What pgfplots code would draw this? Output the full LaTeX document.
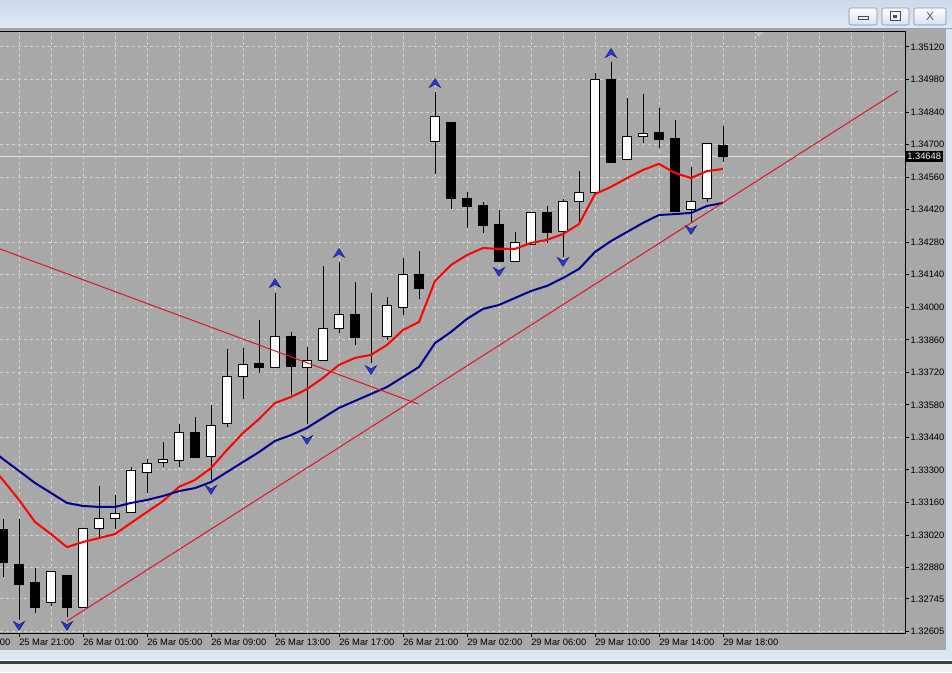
\documentclass[border=0pt]{standalone}
\usepackage{fontspec}
\setmainfont{Liberation Sans}
\usepackage{pgfplots}
\usepackage{pgfplotstable}
\pgfplotsset{compat=1.18}

\definecolor{bggray}{RGB}{168,168,168}
\definecolor{gridc}{RGB}{212,212,212}
\definecolor{tbtop}{RGB}{205,218,236}
\definecolor{tbbot}{RGB}{224,233,245}
\definecolor{tbline}{RGB}{150,160,175}
\definecolor{frameblue}{RGB}{220,230,243}
\definecolor{btnedge}{RGB}{120,140,170}
\definecolor{btnbot}{RGB}{214,225,240}
\definecolor{maNavy}{RGB}{0,0,140}
\definecolor{trendred}{RGB}{220,20,40}
\definecolor{arrowblue}{RGB}{45,55,200}
\definecolor{arrowdark}{RGB}{20,20,120}
\definecolor{pricegray}{RGB}{222,222,222}

% fractal arrows
\pgfdeclareplotmark{fup}{%
  \pgfpathmoveto{\pgfpoint{0pt}{3.4pt}}%
  \pgfpathlineto{\pgfpoint{4.3pt}{-3.4pt}}%
  \pgfpathlineto{\pgfpoint{0pt}{-1pt}}%
  \pgfpathlineto{\pgfpoint{-4.3pt}{-3.4pt}}%
  \pgfpathclose\pgfusepathqfillstroke}
\pgfdeclareplotmark{fdn}{%
  \pgfpathmoveto{\pgfpoint{0pt}{-3.4pt}}%
  \pgfpathlineto{\pgfpoint{4.3pt}{3.4pt}}%
  \pgfpathlineto{\pgfpoint{0pt}{1pt}}%
  \pgfpathlineto{\pgfpoint{-4.3pt}{3.4pt}}%
  \pgfpathclose\pgfusepathqfillstroke}

% hourly candles, index 0 = 25 Mar 20:00
\pgfplotstableread{
i o h l c
0 1.33042 1.33089 1.32839 1.32900
1 1.32895 1.33089 1.32654 1.32805
2 1.32814 1.32878 1.32684 1.32710
3 1.32728 1.32865 1.32715 1.32865
4 1.32844 1.32848 1.32667 1.32710
5 1.32710 1.33050 1.32710 1.33050
6 1.33046 1.33231 1.33012 1.33089
7 1.33089 1.33192 1.33046 1.33111
8 1.33115 1.33313 1.33115 1.33296
9 1.33291 1.33347 1.33201 1.33326
10 1.33334 1.33420 1.33313 1.33343
11 1.33339 1.33498 1.33313 1.33463
12 1.33463 1.33528 1.33352 1.33352
13 1.33356 1.33580 1.33257 1.33493
14 1.33498 1.33820 1.33485 1.33704
15 1.33700 1.33825 1.33605 1.33752
16 1.33756 1.33945 1.33717 1.33743
17 1.33743 1.34062 1.33739 1.33876
18 1.33876 1.33894 1.33623 1.33747
19 1.33743 1.33829 1.33498 1.33769
20 1.33773 1.34178 1.33769 1.33907
21 1.33907 1.34195 1.33889 1.33971
22 1.33971 1.34109 1.33838 1.33872
23 1.33876 1.34062 1.33760 1.33876
24 1.33876 1.34044 1.33859 1.34006
25 1.34001 1.34212 1.33967 1.34143
26 1.34139 1.34242 1.34036 1.34079
27 1.34715 1.34926 1.34574 1.34823
28 1.34793 1.34793 1.34423 1.34470
29 1.34466 1.34496 1.34341 1.34432
30 1.34436 1.34453 1.34320 1.34354
31 1.34358 1.34419 1.34199 1.34199
32 1.34199 1.34324 1.34199 1.34277
33 1.34268 1.34406 1.34268 1.34406
34 1.34406 1.34436 1.34277 1.34320
35 1.34328 1.34466 1.34216 1.34457
36 1.34453 1.34586 1.34363 1.34492
37 1.34492 1.35008 1.34492 1.34982
38 1.34978 1.35056 1.34625 1.34625
39 1.34634 1.34901 1.34634 1.34733
40 1.34733 1.34918 1.34707 1.34746
41 1.34754 1.34858 1.34685 1.34724
42 1.34728 1.34806 1.34410 1.34410
43 1.34419 1.34604 1.34367 1.34457
44 1.34466 1.34703 1.34453 1.34703
45 1.34698 1.34780 1.34625 1.34648
}\ohlc

% moving averages (red fast, navy slow)
\pgfplotstableread{
i r n
-1 1.33334 1.33403
0 1.33257 1.33347
1 1.33171 1.33296
2 1.33076 1.33244
3 1.33024 1.33201
4 1.32968 1.33158
5 1.32990 1.33145
6 1.33007 1.33141
7 1.33024 1.33141
8 1.33072 1.33158
9 1.33119 1.33171
10 1.33166 1.33188
11 1.33227 1.33209
12 1.33257 1.33222
13 1.33308 1.33248
14 1.33386 1.33291
15 1.33459 1.33334
16 1.33519 1.33377
17 1.33588 1.33425
18 1.33614 1.33450
19 1.33648 1.33481
20 1.33696 1.33524
21 1.33752 1.33567
22 1.33782 1.33597
23 1.33795 1.33627
24 1.33838 1.33657
25 1.33902 1.33700
26 1.33937 1.33743
27 1.34113 1.33846
28 1.34182 1.33894
29 1.34225 1.33950
30 1.34255 1.33993
31 1.34251 1.34010
32 1.34251 1.34040
33 1.34277 1.34070
34 1.34290 1.34092
35 1.34315 1.34126
36 1.34358 1.34165
37 1.34487 1.34238
38 1.34518 1.34285
39 1.34556 1.34324
40 1.34591 1.34363
41 1.34617 1.34397
42 1.34578 1.34401
43 1.34556 1.34406
44 1.34586 1.34436
45 1.34595 1.34449
}\ma

\tikzset{lbl/.style={font=\fontsize{7}{8}\selectfont}}
\pgfplotsset{
  mtframe/.style={at={(0pt,29.25pt)}, anchor=south west, scale only axis,
    width=678.75pt, height=450.75pt, xmin=-0.1875, xmax=56.375},
}

\begin{document}
\begin{tikzpicture}
\useasboundingbox (0,0) rectangle (714pt,504pt);

% window chrome
\begin{scope}[x=0.75pt,y=0.75pt]
\shade[top color=tbtop, bottom color=tbbot] (0,643) rectangle (952,672);
\fill[bggray] (0,22) rectangle (946,643);
\draw[tbline, line width=0.75pt] (0,643.5) -- (952,643.5);
\fill[frameblue] (946,12) rectangle (952,643);
\fill[frameblue] (0,12) rectangle (952,22);
\fill[black!75] (0,8) rectangle (952,11);
\fill[black!6] (0,0) rectangle (952,8);
\foreach \a/\b in {849/877, 882/909, 914/946}
  \shade[top color=white, bottom color=btnbot, draw=btnedge, rounded corners=1.5pt] (\a,647) rectangle (\b,664);
\draw[black!70, line width=0.75pt] (858,652) rectangle (868,655);
\draw[black!70, line width=0.75pt] (890,651) rectangle (900,660);
\fill[black!70] (893,654) rectangle (897,657);
\node[text=black!65, font=\fontsize{9}{9}\selectfont] at (930,655.5) {X};
\fill[black!25] (755,640) -- (763,640) -- (759,635) -- cycle;
\end{scope}

% grid, ticks, wicks
\begin{axis}[mtframe, ymin=1.325984, ymax=1.351845, clip=false,
  axis line style={draw=none},
  tick align=outside, major tick length=3pt, minor tick length=0pt,
  tick style={black, line width=0.75pt},
  xtick pos=left, ytick pos=right, xticklabel pos=left, yticklabel pos=right,
  xtick={1,5,9,13,17,21,25,29,33,37,41,45},
  xticklabels={25 Mar 21:00,26 Mar 01:00,26 Mar 05:00,26 Mar 09:00,26 Mar 13:00,26 Mar 17:00,26 Mar 21:00,29 Mar 02:00,29 Mar 06:00,29 Mar 10:00,29 Mar 14:00,29 Mar 18:00},
  minor xtick={3,7,11,15,19,23,27,31,35,39,43,47,49,51,53,55},
  ytick={1.35120,1.34980,1.34840,1.34700,1.34560,1.34420,1.34280,1.34140,1.34000,1.33860,1.33720,1.33580,1.33440,1.33300,1.33160,1.33020,1.32880,1.32745,1.32605},
  yticklabels={1.35120,1.34980,1.34840,1.34700,1.34560,1.34420,1.34280,1.34140,1.34000,1.33860,1.33720,1.33580,1.33440,1.33300,1.33160,1.33020,1.32880,1.32745,1.32605},
  grid=both,
  major grid style={draw=gridc, line width=0.75pt, dash pattern=on 2.25pt off 2.25pt},
  minor grid style={draw=gridc, line width=0.75pt, dash pattern=on 2.25pt off 2.25pt},
  ticklabel style={font=\fontsize{7}{8}\selectfont},
  xticklabel style={anchor=north west, xshift=-1.5pt, inner sep=1.5pt},
  yticklabel style={anchor=west, inner xsep=1pt},
]
\addplot[pricegray, line width=0.75pt] coordinates {(-0.1875,1.34648) (56.375,1.34648)};
\addplot[draw=none, mark=none, error bars/.cd, y dir=plus, y explicit, error mark=none,
  error bar style={draw=black, line width=0.75pt, solid}]
  table[x=i, y=l, y error expr=\thisrow{h}-\thisrow{l}] {\ohlc};
\draw[black, line width=0.75pt] (rel axis cs:0,1) -- (rel axis cs:1,1) -- (rel axis cs:1,0) -- (rel axis cs:0,0);
\begin{scope}
\clip (axis cs:-0.1875,1.3195) rectangle (axis cs:4,1.325984);
\node[lbl, anchor=north west, inner sep=1.5pt, xshift=-1.5pt, yshift=-3pt] at (axis cs:-3,1.325984) {25 Mar 17:00};
\end{scope}
\node[lbl, fill=black, text=white, anchor=west, inner xsep=1.5pt, inner ysep=1.5pt] at (axis cs:56.375,1.34648) {1.34648};
\end{axis}

% candle bodies (prices shifted by 1.32)
\begin{axis}[mtframe, ymin=0.005984, ymax=0.031845, hide axis, ybar stacked, bar width=7pt]
\addplot[draw=none, fill=none] table[x=i, y expr={min(\thisrow{o},\thisrow{c})-1.32}] {\ohlc};
\addplot[draw=black, fill=white, line width=0.75pt] table[x=i, y expr={max(\thisrow{c}-\thisrow{o},0)}] {\ohlc};
\addplot[draw=black, fill=black, line width=0.75pt] table[x=i, y expr={max(\thisrow{o}-\thisrow{c},0)}] {\ohlc};
\end{axis}

% moving averages, trend lines, fractals
\begin{axis}[mtframe, ymin=1.325984, ymax=1.351845, hide axis]
\addplot[red, line width=1.5pt] table[x=i, y=r] {\ma};
\addplot[maNavy, line width=1.5pt] table[x=i, y=n] {\ma};
\addplot[trendred, line width=0.75pt] coordinates {(4,1.32650) (55.94,1.34931)};
\addplot[trendred, line width=0.75pt] coordinates {(-0.1875,1.34251) (25.94,1.33584)};
\addplot[only marks, mark=fup, mark options={fill=arrowblue, draw=arrowdark, line width=0.3pt}]
  coordinates {(17,1.34104) (21,1.34234) (27,1.34965) (38,1.35094)};
\addplot[only marks, mark=fdn, mark options={fill=arrowblue, draw=arrowdark, line width=0.3pt}]
  coordinates {(1,1.32629) (4,1.32629) (13,1.33214) (19,1.33429) (23,1.33730) (31,1.34152) (35,1.34195) (43,1.34332)};
\end{axis}
\end{tikzpicture}
\end{document}
